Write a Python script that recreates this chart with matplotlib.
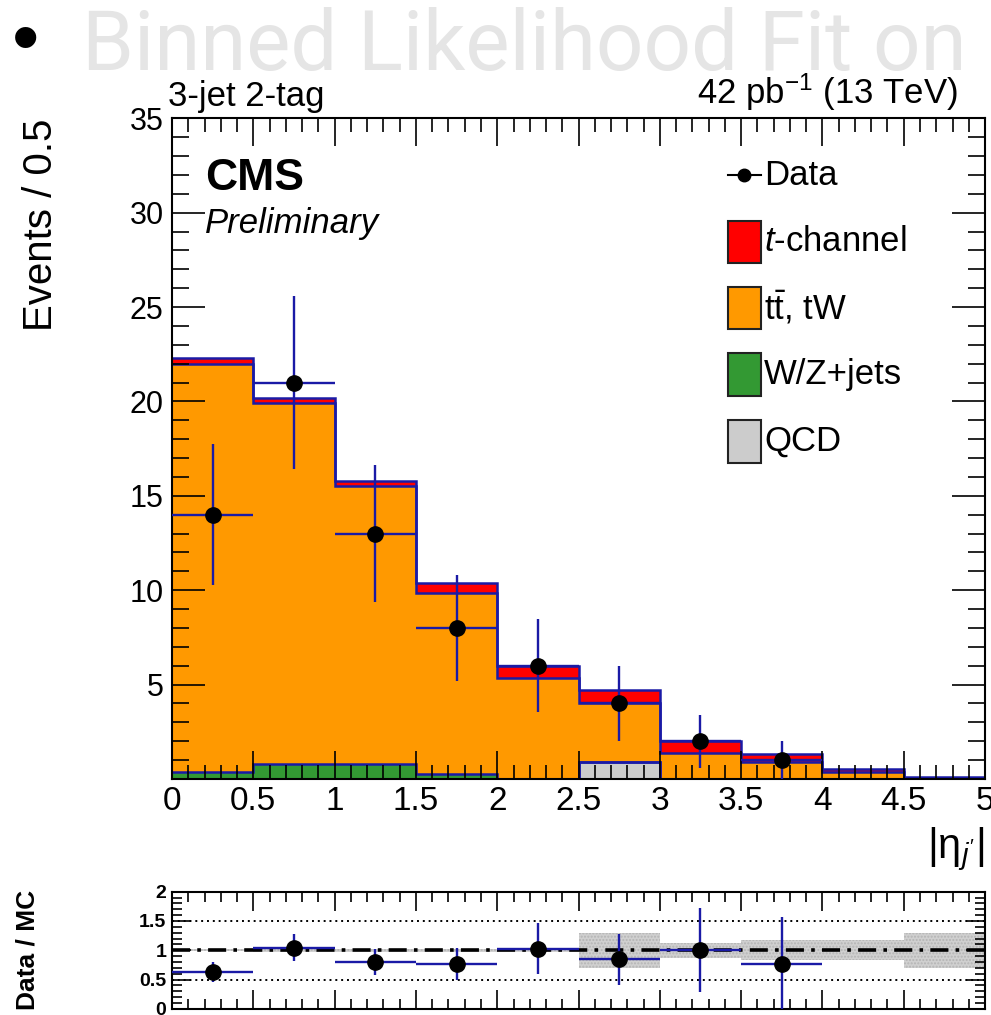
import numpy as np
import matplotlib.pyplot as plt
from matplotlib.patches import Rectangle
from matplotlib.lines import Line2D
from matplotlib.ticker import MultipleLocator

plt.rcParams['font.family'] = ['Liberation Sans', 'DejaVu Sans']
plt.rcParams['mathtext.fontset'] = 'custom'
plt.rcParams['mathtext.rm'] = 'Liberation Sans'
plt.rcParams['mathtext.it'] = 'Liberation Sans:italic'

# binning in |eta_j'|
edges = [0, 0.5, 1, 1.5, 2, 2.5, 3, 3.5, 4, 4.5, 5]
centers = [0.25, 0.75, 1.25, 1.75, 2.25, 2.75, 3.25, 3.75, 4.25, 4.75]

# stacked backgrounds/signal, events per bin
qcd = [0, 0, 0, 0, 0, 0.9, 0, 0, 0, 0]
wzjets = [0.35, 0.8, 0.8, 0.25, 0, 0, 0, 0, 0, 0]
ttbar_tw = [21.65, 19.1, 14.7, 9.6, 5.35, 3.1, 1.4, 0.9, 0.35, 0.05]
tchannel = [0.3, 0.3, 0.3, 0.55, 0.65, 0.7, 0.6, 0.4, 0.2, 0.05]

# observed events
data_x = [0.25, 0.75, 1.25, 1.75, 2.25, 2.75, 3.25, 3.75]
data_y = [14, 21, 13, 8, 6, 4, 2, 1]
data_err = [3.74, 4.58, 3.61, 2.83, 2.45, 2.0, 1.41, 1.0]

# data / MC ratio
ratio = [0.63, 1.04, 0.80, 0.77, 1.03, 0.85, 1.0, 0.77]
ratio_lo = [0.17, 0.23, 0.23, 0.27, 0.43, 0.45, 0.72, 0.77]
ratio_hi = [0.17, 0.23, 0.23, 0.27, 0.43, 0.43, 0.73, 0.80]
# MC uncertainty band in the ratio
band_lo = [0.98, 0.97, 0.97, 0.97, 0.97, 0.70, 0.87, 0.84, 0.84, 0.70]
band_hi = [1.02, 1.03, 1.03, 1.03, 1.03, 1.30, 1.13, 1.17, 1.17, 1.30]

c_red = '#ff0000'
c_orange = '#ff9900'
c_green = '#339933'
c_grey = '#cccccc'
c_blue = '#1a1aa6'

fig = plt.figure(figsize=(9.91, 10.15), dpi=100)
ax = fig.add_axes([0.1736, 0.2325, 0.8204, 0.651])
rax = fig.add_axes([0.1736, 0.006, 0.8204, 0.1155])

# stack: qcd, W/Z+jets, ttbar/tW, t-channel
bottom = np.zeros(10)
for vals, col in [(qcd, c_grey), (wzjets, c_green), (ttbar_tw, c_orange), (tchannel, c_red)]:
    top = bottom + np.array(vals)
    ax.stairs(top, edges, baseline=bottom, fill=True, color=col, lw=0)
    bottom = top
bottom = np.zeros(10)
for vals in [qcd, wzjets, ttbar_tw, tchannel]:
    top = bottom + np.array(vals)
    ax.stairs(top, edges, baseline=None, color=c_blue, lw=1.8)
    bottom = top

ax.errorbar(data_x, data_y, yerr=data_err, xerr=0.25, fmt='o', color='black',
            ms=11, ecolor=c_blue, elinewidth=1.7, capsize=0, zorder=5)

ax.set_xlim(0, 5)
ax.set_ylim(0, 35)
ax.xaxis.set_major_locator(MultipleLocator(0.5))
ax.xaxis.set_minor_locator(MultipleLocator(0.1))
ax.yaxis.set_major_locator(MultipleLocator(5))
ax.yaxis.set_minor_locator(MultipleLocator(1))
ax.set_yticks([5, 10, 15, 20, 25, 30, 35])
ax.set_xticks(edges)
ax.set_xticklabels(['0', '0.5', '1', '1.5', '2', '2.5', '3', '3.5', '4', '4.5', '5'])
ax.tick_params(which='both', direction='in', top=True, right=True, width=1.2)
ax.tick_params(axis='y', labelsize=22)
ax.tick_params(axis='x', labelsize=24)
ax.tick_params(which='major', length=24, pad=6)
ax.tick_params(which='minor', length=12)
ax.tick_params(axis='x', which='major', length=20, pad=5)
ax.tick_params(axis='x', which='minor', length=10)
for s in ax.spines.values():
    s.set_linewidth(1.5)

ax.set_ylabel('Events / 0.5', fontsize=29, loc='top', labelpad=50)
ax.text(1.0, -0.07, r"|η$_{j'}$|", transform=ax.transAxes, ha='right', va='top', fontsize=30)
ax.text(-0.005, 1.008, '3-jet 2-tag', transform=ax.transAxes, ha='left', va='bottom', fontsize=25)
ax.text(0.967, 1.008, r'42 pb$^{-1}$ (13 TeV)', transform=ax.transAxes, ha='right', va='bottom', fontsize=25)
ax.text(0.041, 0.94, 'CMS', transform=ax.transAxes, fontsize=32, fontweight='bold', va='top')
ax.text(0.041, 0.865, 'Preliminary', transform=ax.transAxes, fontsize=25, style='italic', va='top')

# legend drawn by hand
ax.add_line(Line2D([0.684, 0.724], [0.914, 0.914], transform=ax.transAxes, color='black', lw=1.5))
ax.plot([0.704], [0.914], 'o', color='black', ms=9, transform=ax.transAxes)
ax.text(0.728, 0.914, 'Data', transform=ax.transAxes, fontsize=25, va='center')
leg = [(c_red, r'$t$-channel', 0.813), (c_orange, r't$\bar{\mathrm{t}}$, tW', 0.713),
       (c_green, 'W/Z+jets', 0.612), (c_grey, 'QCD', 0.511)]
for col, lab, yc in leg:
    ax.add_patch(Rectangle((0.684, yc - 0.032), 0.04, 0.064, transform=ax.transAxes,
                           facecolor=col, edgecolor='#222222', lw=1.5))
    ax.text(0.728, yc, lab, transform=ax.transAxes, fontsize=25, va='center')

# ratio panel
for i in range(10):
    rax.fill_between([edges[i], edges[i + 1]], band_lo[i], band_hi[i], color='#c8c8c8',
                     lw=0, alpha=0.85, hatch='.....', edgecolor='#b0b0b0')
rax.axhline(1.5, color='black', ls=(0, (1, 2)), lw=1.4)
rax.axhline(0.5, color='black', ls=(0, (1, 2)), lw=1.4)
rax.axhline(1.0, color='black', ls=(0, (5, 2, 1, 2)), lw=2.6, zorder=3)
rax.errorbar(data_x, ratio, yerr=[ratio_lo, ratio_hi], xerr=0.25, fmt='o', color='black',
             ms=11, ecolor=c_blue, elinewidth=1.7, capsize=0, zorder=5)
rax.set_xlim(0, 5)
rax.set_ylim(0, 2)
rax.xaxis.set_major_locator(MultipleLocator(0.5))
rax.xaxis.set_minor_locator(MultipleLocator(0.1))
rax.yaxis.set_major_locator(MultipleLocator(0.5))
rax.yaxis.set_minor_locator(MultipleLocator(0.1))
rax.set_yticks([0, 0.5, 1, 1.5, 2])
rax.set_yticklabels(['0', '0.5', '1', '1.5', '2'], fontweight='bold')
rax.tick_params(which='both', direction='in', top=True, right=True, labelsize=14, width=1.2,
                labelbottom=False)
rax.tick_params(which='major', length=14, pad=4)
rax.tick_params(which='minor', length=7)
for s in rax.spines.values():
    s.set_linewidth(1.5)
rax.set_ylabel('Data / MC', fontsize=19, fontweight='bold', labelpad=72)

# slide header above the plot
fig.text(0.012, 0.958, '\u2022', fontsize=56, color='black', va='center', ha='left')
fig.text(0.083, 0.931, 'Binned Likelihood Fit on', fontsize=60, color='#e5e5e5',
         family=['Roboto', 'DejaVu Sans'], fontweight='normal', va='baseline', ha='left')

fig.savefig('out.png', dpi=100)
